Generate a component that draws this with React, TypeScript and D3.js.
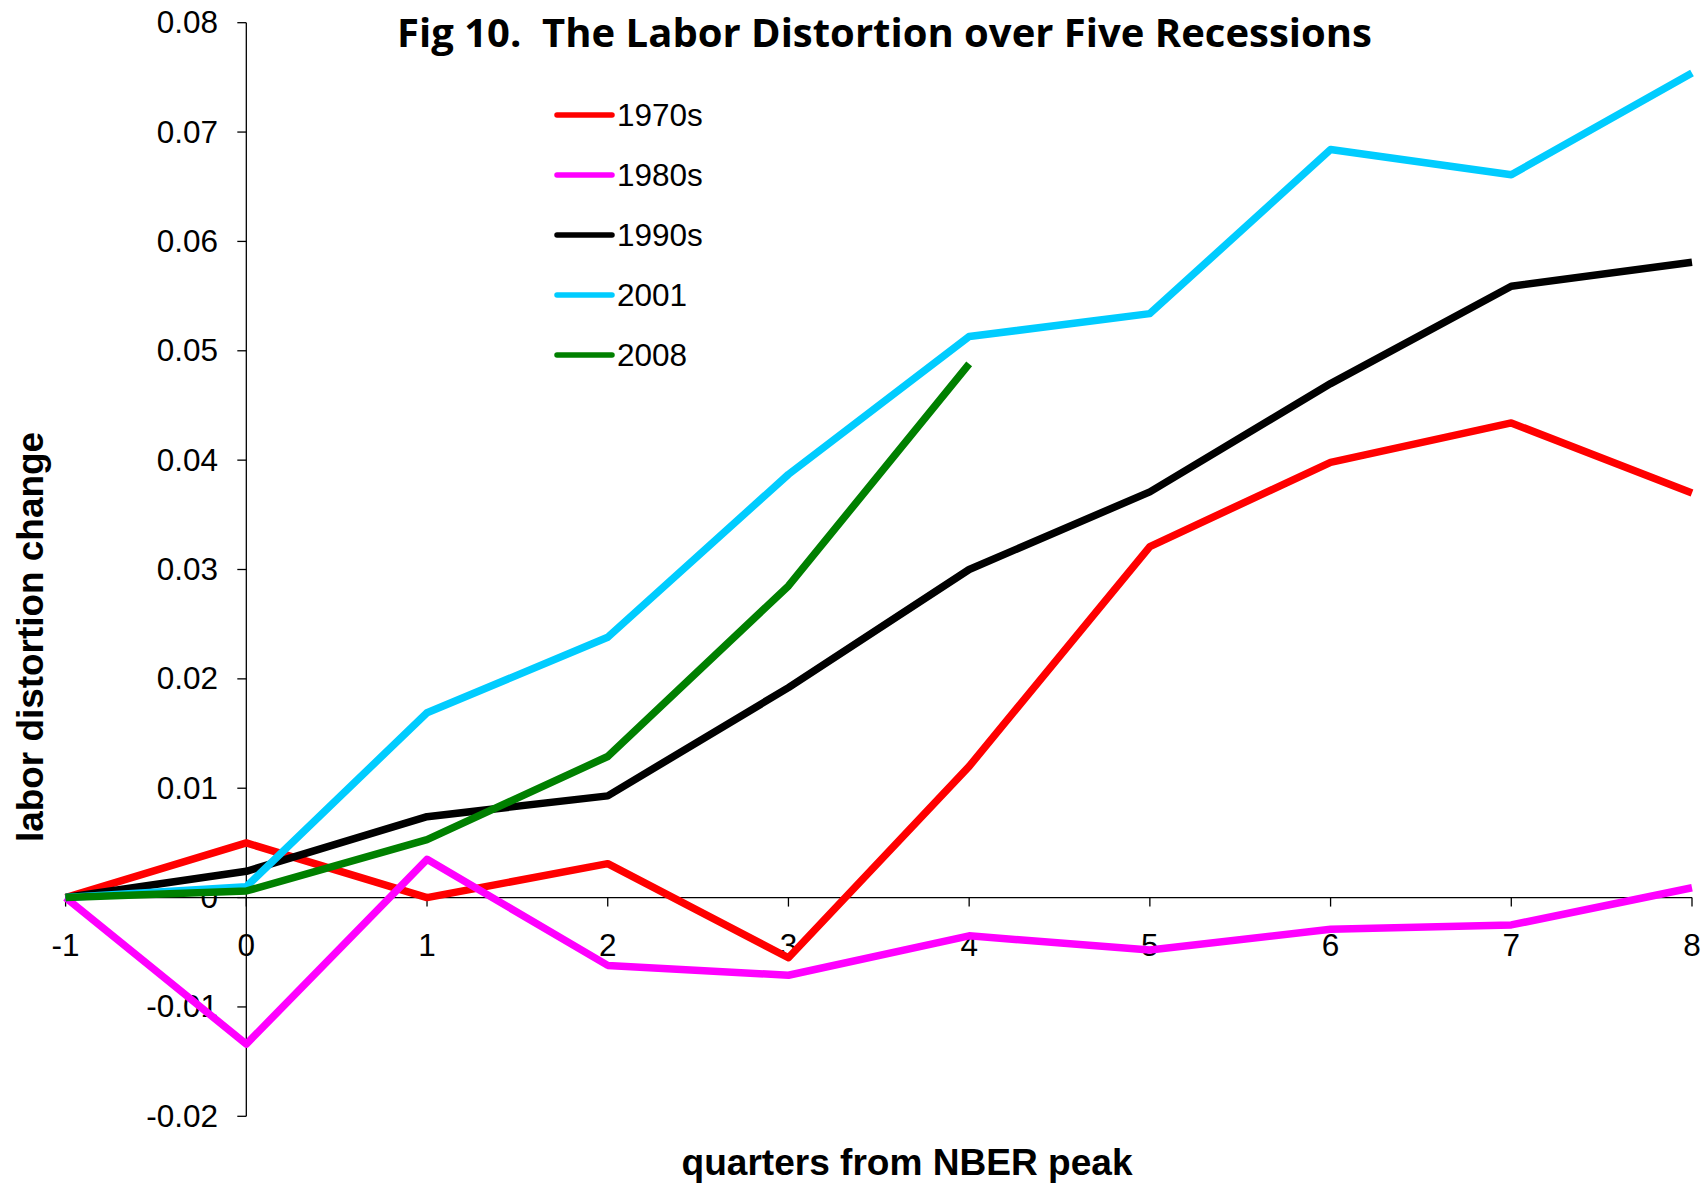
import React from "react";
import * as d3 from "d3";

const quarters = [-1, 0, 1, 2, 3, 4, 5, 6, 7, 8];
const s1970s = [0, 0.005, 0.0, 0.0031, -0.0055, 0.012, 0.0321, 0.0398, 0.0434, 0.037];
const s1980s = [0, -0.0134, 0.0035, -0.0062, -0.0071, -0.0035, -0.0048, -0.0029, -0.0025, 0.0009];
const s1990s = [0, 0.0024, 0.0074, 0.0093, 0.0192, 0.03, 0.0371, 0.047, 0.0559, 0.0581];
const s2001 = [0, 0.001, 0.0169, 0.0238, 0.0387, 0.0513, 0.0534, 0.0684, 0.0661, 0.0754];
const s2008 = [0, 0.0006, 0.0053, 0.0129, 0.0285, 0.0488];

const seriesNames = ["1970s", "1980s", "1990s", "2001", "2008"];
const seriesValues = [s1970s, s1980s, s1990s, s2001, s2008];
const seriesColors = ["#FF0000", "#FF00FF", "#000000", "#00CCFF", "#008000"];

const xTicks = [-1, 0, 1, 2, 3, 4, 5, 6, 7, 8];
const xTickLabels = ["-1", "0", "1", "2", "3", "4", "5", "6", "7", "8"];
const yTicks = [-0.02, -0.01, 0, 0.01, 0.02, 0.03, 0.04, 0.05, 0.06, 0.07, 0.08];
const yTickLabels = ["-0.02", "-0.01", "0", "0.01", "0.02", "0.03", "0.04", "0.05", "0.06", "0.07", "0.08"];

const title = "Fig 10.  The Labor Distortion over Five Recessions";
const xTitle = "quarters from NBER peak";
const yTitle = "labor distortion change";

export default function App() {
  const W = 1703;
  const H = 1185;
  const x = d3.scaleLinear().domain([-1, 8]).range([65.6, 1692]);
  const y = d3.scaleLinear().domain([-0.02, 0.08]).range([1116.3, 22.7]);
  const line = d3
    .line<[number, number]>()
    .x((d) => x(d[0]))
    .y((d) => y(d[1]));

  const font = "Arial, 'Liberation Sans', sans-serif";
  const axisX = x(0);
  const zeroY = y(0);

  return (
    <svg
      width={W}
      height={H}
      style={{ position: "absolute", left: 0, top: 0, background: "#fff" }}
      xmlns="http://www.w3.org/2000/svg"
    >
      <rect x={0} y={0} width={W} height={H} fill="#fff" />
      {/* title */}
      <text
        x={397}
        y={47}
        fontFamily="'Liberation Sans Narrow', 'Arial Narrow', 'Open Sans', sans-serif"
        fontWeight="bold"
        fontSize={40}
        textLength={975}
        lengthAdjust="spacingAndGlyphs"
        fill="#000"
        style={{ whiteSpace: "pre" }}
      >
        {title}
      </text>

      {/* y axis */}
      <line x1={axisX} x2={axisX} y1={y(-0.02)} y2={y(0.08)} stroke="#000" strokeWidth={1.3} />
      {yTicks.map((t, i) => (
        <g key={"yt" + i}>
          <line x1={axisX - 9} x2={axisX} y1={y(t)} y2={y(t)} stroke="#000" strokeWidth={1.3} />
          <text
            x={218}
            y={y(t) + 10.5}
            textAnchor="end"
            fontFamily={font}
            fontSize={31.5}
            fill="#000"
          >
            {yTickLabels[i]}
          </text>
        </g>
      ))}

      {/* x axis at zero */}
      <line x1={x(-1)} x2={x(8)} y1={zeroY} y2={zeroY} stroke="#000" strokeWidth={1.3} />
      {xTicks.map((t, i) => (
        <g key={"xt" + i}>
          <line x1={x(t)} x2={x(t)} y1={zeroY} y2={zeroY + 9} stroke="#000" strokeWidth={1.3} />
          <text
            x={x(t)}
            y={956}
            textAnchor="middle"
            fontFamily={font}
            fontSize={31.5}
            fill="#000"
          >
            {xTickLabels[i]}
          </text>
        </g>
      ))}

      {/* series */}
      {seriesValues.map((vals, si) => {
        const pts: [number, number][] = vals.map((v, i) => [quarters[i], v]);
        return (
          <path
            key={"s" + si}
            d={line(pts) || ""}
            fill="none"
            stroke={seriesColors[si]}
            strokeWidth={7.5}
            strokeLinejoin="round"
            strokeLinecap="butt"
          />
        );
      })}

      {/* legend */}
      {seriesNames.map((n, i) => {
        const ly = 115 + i * 60;
        return (
          <g key={"lg" + i}>
            <line
              x1={557}
              x2={612}
              y1={ly}
              y2={ly}
              stroke={seriesColors[i]}
              strokeWidth={5.5}
              strokeLinecap="round"
            />
            <text x={617} y={ly + 11} fontFamily={font} fontSize={31.5} fill="#000">
              {n}
            </text>
          </g>
        );
      })}

      {/* axis titles */}
      <text
        x={907}
        y={1175}
        textAnchor="middle"
        fontFamily={font}
        fontWeight="bold"
        fontSize={36}
        textLength={451}
        lengthAdjust="spacingAndGlyphs"
        fill="#000"
      >
        {xTitle}
      </text>
      <text
        transform="translate(43,637) rotate(-90)"
        x={0}
        y={0}
        textAnchor="middle"
        fontFamily={font}
        fontWeight="bold"
        fontSize={36}
        textLength={410}
        lengthAdjust="spacingAndGlyphs"
        fill="#000"
      >
        {yTitle}
      </text>
    </svg>
  );
}
